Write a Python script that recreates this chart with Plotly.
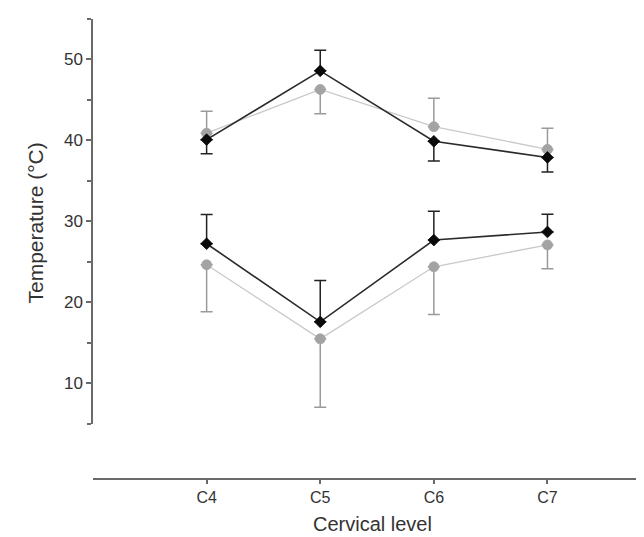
import plotly.graph_objects as go

levels = ["C4", "C5", "C6", "C7"]

# Upper pair of series
upper_black = [40.1, 48.6, 39.9, 37.9]
upper_black_err_plus = [0, 2.55, 0, 0]
upper_black_err_minus = [1.75, 0, 2.45, 1.8]
upper_gray = [40.9, 46.3, 41.7, 38.9]
upper_gray_err_plus = [2.7, 0, 3.5, 2.6]
upper_gray_err_minus = [0, 3.0, 0, 0]

# Lower pair of series
lower_black = [27.25, 17.6, 27.7, 28.7]
lower_black_err_plus = [3.6, 5.1, 3.55, 2.2]
lower_black_err_minus = [0, 0, 0, 0]
lower_gray = [24.65, 15.5, 24.4, 27.1]
lower_gray_err_plus = [0, 0, 0, 0]
lower_gray_err_minus = [5.8, 8.45, 5.9, 2.95]

y_ticks = [10, 20, 30, 40, 50]

BLACK_LINE = "#2b2b2b"
BLACK_MARK = "#0a0a0a"
GRAY_LINE = "#c9c9c9"
GRAY_MARK = "#a3a3a3"
GRAY_ERR = "#9a9a9a"
BLACK_ERR = "#222222"


def series(y, plus, minus, line_col, mark_col, err_col, symbol, size, lw):
    return go.Scatter(
        x=levels, y=y, mode="lines+markers",
        line=dict(color=line_col, width=lw),
        marker=dict(symbol=symbol, size=size, color=mark_col,
                    line=dict(width=0.8, color=mark_col)),
        error_y=dict(type="data", symmetric=False, array=plus, arrayminus=minus,
                     color=err_col, thickness=1.5, width=6),
        showlegend=False, hoverinfo="skip",
    )


fig = go.Figure()
fig.add_trace(series(upper_gray, upper_gray_err_plus, upper_gray_err_minus,
                     GRAY_LINE, GRAY_MARK, GRAY_ERR, "circle", 10, 1.3))
fig.add_trace(series(lower_gray, lower_gray_err_plus, lower_gray_err_minus,
                     GRAY_LINE, GRAY_MARK, GRAY_ERR, "circle", 10, 1.3))
fig.add_trace(series(upper_black, upper_black_err_plus, upper_black_err_minus,
                     BLACK_LINE, BLACK_MARK, BLACK_ERR, "diamond", 9, 1.6))
fig.add_trace(series(lower_black, lower_black_err_plus, lower_black_err_minus,
                     BLACK_LINE, BLACK_MARK, BLACK_ERR, "diamond", 9, 1.6))

AX = "#6a6a6a"
TXT = "#333333"
fig.update_layout(
    width=644, height=537,
    margin=dict(l=85, r=0, t=11, b=66),
    plot_bgcolor="white", paper_bgcolor="white",
    font=dict(family="Liberation Sans, Arial, sans-serif", color=TXT),
    xaxis=dict(
        type="category", range=[-1, 3.92],
        showline=True, linecolor=AX, linewidth=1.5,
        ticks="outside", ticklen=4, tickwidth=1.5, tickcolor=AX,
        tickfont=dict(size=16, color=TXT),
        showgrid=False, zeroline=False, automargin=False,
        anchor="free", position=0,
    ),
    yaxis=dict(
        domain=[0.1198, 1], range=[5, 55],
        tickvals=y_ticks,
        showline=True, linecolor=AX, linewidth=1.5,
        ticks="outside", ticklen=5, tickwidth=1.5, tickcolor=AX,
        minor=dict(dtick=5, tick0=0, ticks="outside", ticklen=4, tickwidth=1.5, tickcolor=AX),
        tickfont=dict(size=17, color=TXT),
        showgrid=False, zeroline=False, automargin=False,
    ),
    annotations=[
        dict(text="Cervical level", xref="paper", yref="paper", x=0.5, y=-0.098,
             xanchor="center", yanchor="middle", showarrow=False,
             font=dict(size=20, color=TXT)),
        dict(text="Temperature (°C)", xref="paper", yref="paper", x=-0.102, y=0.5575,
             xanchor="center", yanchor="middle", showarrow=False, textangle=-90,
             font=dict(size=21, color=TXT)),
    ],
)

fig.write_html("out.html")
